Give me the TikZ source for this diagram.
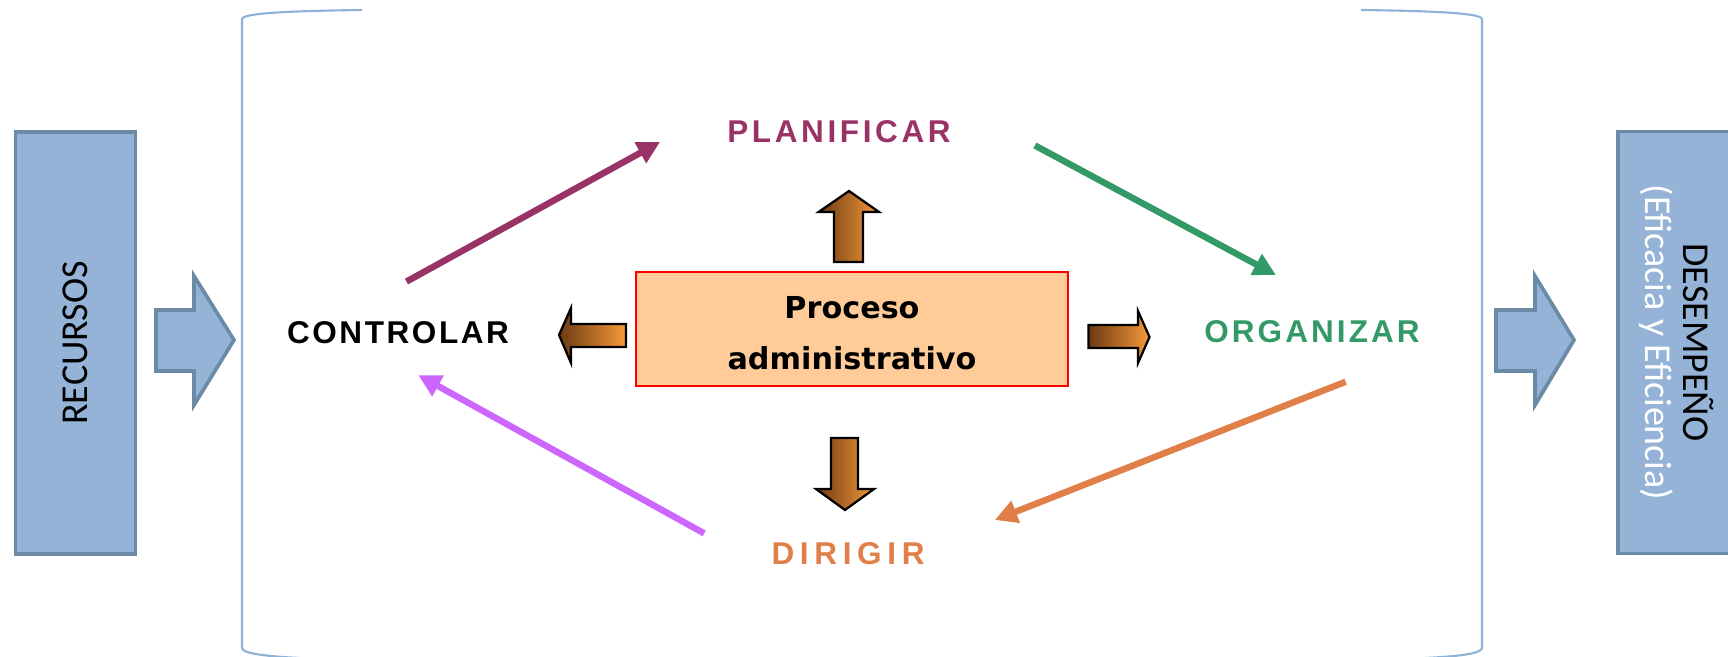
\documentclass[tikz,border=0pt]{standalone}
\usepackage{fontspec}
\setmainfont{Liberation Sans}
\newfontfamily\procfont{DejaVu Sans}
\newfontfamily\boxfont{Carlito}
\usetikzlibrary{arrows.meta}
\definecolor{cajaazul}{HTML}{95B3D7}
\definecolor{bordeazul}{HTML}{6A8AA6}
\definecolor{corchete}{HTML}{8FB1D6}
\definecolor{morado}{HTML}{993366}
\definecolor{verde}{HTML}{339966}
\definecolor{naranja}{HTML}{E07F48}
\definecolor{lila}{HTML}{CC66FF}
\definecolor{durazno}{HTML}{FFCC99}
\definecolor{cafe}{HTML}{6B3A12}
\definecolor{naranjaclaro}{HTML}{F7993A}
\tikzset{
  caja/.style={
    rectangle, draw=bordeazul, fill=cajaazul, line width=2.6pt,
    minimum width=10.55cm, minimum height=3cm, align=center,
    font={\boxfont\fontsize{27}{27}\selectfont}
  },
  proceso/.style={
    rectangle, draw=red, fill=durazno, line width=1.5pt,
    minimum width=10.8cm, minimum height=2.85cm, align=center,
    font={\procfont\bfseries\fontsize{21.5}{36.3}\selectfont}
  },
  etiqueta/.style={
    inner sep=0pt, font={\bfseries\fontsize{22.4}{26}\selectfont}
  },
  flecha/.style={
    -{Triangle[length=16pt,width=16pt]}, line width=4.6pt
  },
  flechaazul/.style={
    draw=bordeazul, fill=cajaazul, line width=2.6pt
  },
  flechanaranja/.style={
    draw=black, line width=1.6pt, left color=cafe, right color=naranjaclaro
  },
  corchete/.style={
    draw=corchete, line width=1.5pt
  }
}

\begin{document}
\begin{tikzpicture}[x=0.025cm, y=0.025cm]
    \useasboundingbox (0,0) rectangle (1728,657);
    \clip (0,0) rectangle (1728,657);

    % Corchetes
    \draw[corchete] (362,647) .. controls (290,646) and (243,644) .. (242,638) -- (242,9) .. controls (243,4) and (260,1) .. (300,-1);
    \draw[corchete] (1361,647) .. controls (1433,646) and (1481,644) .. (1482,638) -- (1482,9) .. controls (1481,4) and (1465,1) .. (1425,-1);

    % Entradas y salidas
    \node[caja, rotate=90] (recursos) at (75.5,314) {RECURSOS};
    \node[caja, rotate=-90, minimum height=2.95cm] (desempeno) at (1677,314.5) {DESEMPEÑO\\\textcolor{white}{(Eficacia y Eficiencia)}};
    \draw[flechaazul] (156,286) -- (194,286) -- (194,252) -- (234,317) -- (194,381) -- (194,347) -- (156,347) -- cycle;
    \draw[flechaazul] (1496,286) -- (1535,286) -- (1535,252) -- (1574,317) -- (1535,381) -- (1535,347) -- (1496,347) -- cycle;

    % Proceso central
    \node[proceso] (proceso) at (852,328) {\rule{0pt}{21.5pt}Proceso\\administrativo};
    \draw[flechanaranja] (834,395) -- (863,395) -- (863,445) -- (879,445) -- (849,466) -- (818.6,445) -- (834,445) -- cycle;
    \draw[flechanaranja] (831,219) -- (858,219) -- (858,168) -- (874,168) -- (845,147) -- (816,168) -- (831,168) -- cycle;
    \draw[flechanaranja] (626,310) -- (626,333) -- (571,333) -- (571,349) -- (559,322) -- (571,294) -- (571,310) -- cycle;
    \draw[flechanaranja] (1088.5,309) -- (1138,309) -- (1138,294) -- (1149.5,320) -- (1138,346) -- (1138,332) -- (1088.5,332) -- cycle;

    % Etapas
    \node[etiqueta, text=morado] (planificar) at (839,525) {\addfontfeature{LetterSpace=11.5}PLANIFICAR};
    \node[etiqueta, text=verde] (organizar) at (1312,325) {\addfontfeature{LetterSpace=9.8}ORGANIZAR};
    \node[etiqueta, text=naranja] (dirigir) at (848,103) {\addfontfeature{LetterSpace=18}DIRIGIR};
    \node[etiqueta, text=black] (controlar) at (398,324.5) {\addfontfeature{LetterSpace=8.2}CONTROLAR};

    % Ciclo
    \draw[flecha, morado] ([shift={(8.5,39.5)}]controlar.north) -- ([shift={(-67,-10)}]planificar.west);
    \draw[flecha, verde] ([shift={(84,-13.5)}]planificar.east) -- ([shift={(-36,45.5)}]organizar.north);
    \draw[flecha, naranja] ([shift={(33.6,-38.3)}]organizar.south) -- ([shift={(70,34)}]dirigir.east);
    \draw[flecha, lila] ([shift={(-67,20.6)}]dirigir.west) -- ([shift={(20.3,-31.2)}]controlar.south);

\end{tikzpicture}
\end{document}
